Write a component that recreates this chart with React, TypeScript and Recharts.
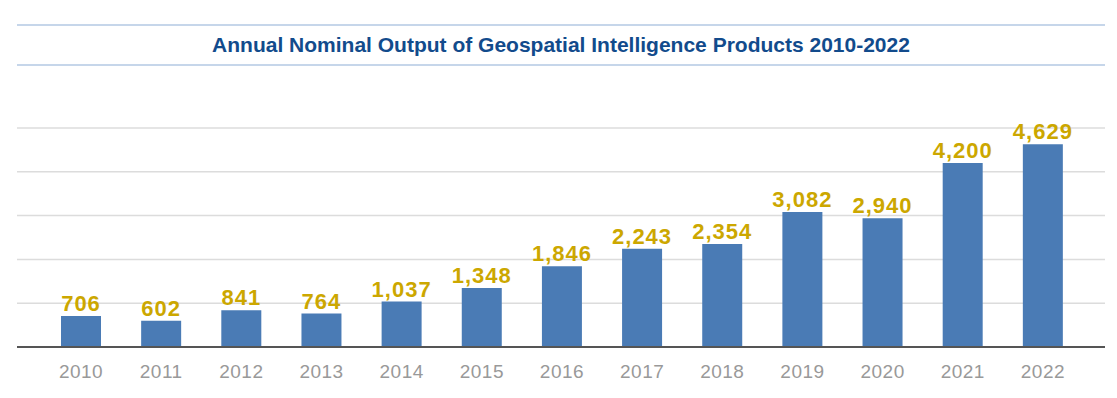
import React from "react";
import { BarChart, Bar, XAxis, YAxis, CartesianGrid, LabelList } from "recharts";

const years = ["2010", "2011", "2012", "2013", "2014", "2015", "2016", "2017", "2018", "2019", "2020", "2021", "2022"];
const output = [706, 602, 841, 764, 1037, 1348, 1846, 2243, 2354, 3082, 2940, 4200, 4629];
const yTicks = [0, 1000, 2000, 3000, 4000, 5000];

const data = years.map((year, i) => ({ year, output: output[i] }));

const font = "'Liberation Sans', Arial, sans-serif";

export default function App() {
  return (
    <div style={{ position: "absolute", left: 0, top: 0, width: 1117, height: 398, background: "#fff", fontFamily: font }}>
      <div
        style={{
          position: "absolute",
          left: 17,
          top: 24,
          width: 1088,
          height: 38,
          borderTop: "2px solid #c6d6ea",
          borderBottom: "2px solid #c6d6ea",
          display: "flex",
          alignItems: "center",
          justifyContent: "center",
          color: "#124b8c",
          fontWeight: "bold",
          fontSize: 21,
        }}
      >
        Annual Nominal Output of Geospatial Intelligence Products 2010-2022
      </div>
      <div style={{ position: "absolute", left: 0, top: 0 }}>
        <BarChart width={1117} height={398} data={data} margin={{ top: 128, right: 12, bottom: 0, left: 17 }}>
          <CartesianGrid vertical={false} stroke="#dcdcdc" strokeWidth={1.5} />
          <XAxis
            dataKey="year"
            height={51}
            padding={{ left: 24, right: 22 }}
            tickLine={false}
            axisLine={{ stroke: "#555", strokeWidth: 2 }}
            tickMargin={12}
            tick={{ fill: "#999", fontSize: 19, letterSpacing: 0.5, fontFamily: font }}
          />
          <YAxis hide domain={[0, 5000]} ticks={yTicks} />
          <Bar dataKey="output" fill="#4a7bb5" barSize={40} isAnimationActive={false}>
            <LabelList
              dataKey="output"
              position="top"
              offset={5}
              formatter={(v: number) => v.toLocaleString("en-US")}
              style={{ fill: "#cca700", fontWeight: "bold", fontSize: 22, letterSpacing: 1, fontFamily: font }}
            />
          </Bar>
        </BarChart>
      </div>
    </div>
  );
}
